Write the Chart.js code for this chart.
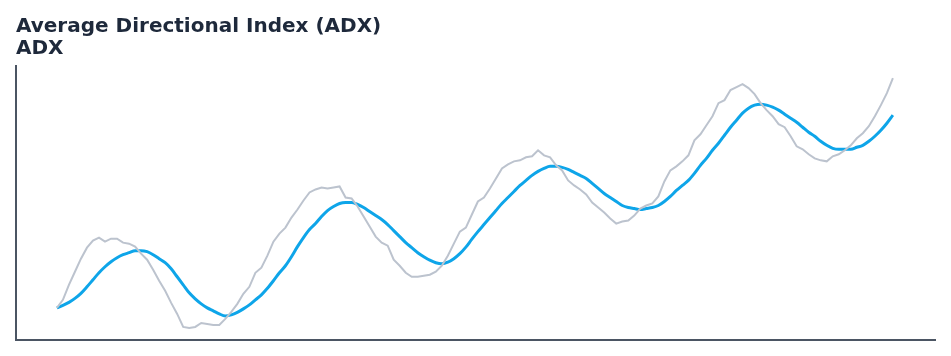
<!DOCTYPE html>
<html>
<head>
<meta charset="utf-8">
<script src="https://cdn.jsdelivr.net/npm/chart.js@4"></script>
<style>
  html, body { margin: 0; padding: 0; background: #ffffff; }
  #wrap { width: 951px; height: 356px; }
</style>
</head>
<body>
<div id="wrap"><canvas id="adxChart"></canvas></div>
<script>
// raw ADX readings, one per period
const adx = [
  10.4, 12, 15, 17.6, 20.2, 22.4, 23.8, 24.4, 23.6, 24.2,
  24.2, 23.4, 23.2, 22.6, 21.2, 20, 18, 15.8, 13.8, 11.4,
  9.2, 6.6, 6.4, 6.6, 7.4, 7.2, 7, 7, 8.2, 9.6,
  11.2, 13.2, 14.6, 17.4, 18.4, 20.8, 23.6, 25.2, 26.4, 28.4,
  30, 31.8, 33.4, 34, 34.4, 34.2, 34.4, 34.6, 32.4, 32.2,
  30.6, 28.6, 26.6, 24.6, 23.4, 22.8, 20, 18.8, 17.4, 16.6,
  16.6, 16.8, 17, 17.6, 18.8, 20.8, 23.2, 25.6, 26.4, 29,
  31.6, 32.4, 34.2, 36.2, 38.2, 39, 39.6, 39.8, 40.4, 40.6,
  41.8, 40.8, 40.4, 38.8, 37.8, 35.8, 34.8, 34, 33, 31.4,
  30.4, 29.4, 28.2, 27.2, 27.6, 27.8, 28.8, 30.2, 30.8, 31.2,
  32.6, 35.6, 37.8, 38.6, 39.6, 40.8, 43.8, 45, 46.8, 48.6,
  51.2, 51.8, 53.8, 54.4, 55, 54.2, 53, 51.2, 49.8, 48.6,
  47, 46.4, 44.6, 42.6, 42, 41, 40.2, 39.8, 39.6, 40.6,
  41, 41.8, 42.8, 44.2, 45.2, 46.6, 48.6, 50.8, 53.2, 56.2
];

// smoothed ADX
const adxSmooth = [
  10.4, 10.9, 11.5, 12.3, 13.3, 14.6, 16, 17.4, 18.6, 19.6,
  20.4, 21, 21.4, 21.8, 21.8, 21.6, 21, 20.2, 19.4, 18.2,
  16.6, 15, 13.4, 12.2, 11.2, 10.4, 9.8, 9.2, 8.8, 9,
  9.5, 10.2, 11, 12, 13, 14.3, 15.8, 17.4, 18.8, 20.6,
  22.6, 24.4, 26, 27.2, 28.6, 29.8, 30.6, 31.2, 31.4, 31.4,
  31, 30.4, 29.6, 28.8, 28, 27, 25.8, 24.6, 23.4, 22.4,
  21.4, 20.6, 19.9, 19.4, 19.2, 19.5, 20.2, 21.2, 22.5, 24.1,
  25.6, 27, 28.4, 29.8, 31.2, 32.4, 33.6, 34.8, 35.8, 36.8,
  37.6, 38.2, 38.6, 38.6, 38.4, 38, 37.4, 36.8, 36.2, 35.2,
  34.2, 33.2, 32.4, 31.6, 30.8, 30.4, 30.2, 30, 30.2, 30.4,
  30.8, 31.6, 32.6, 33.8, 34.8, 35.8, 37.2, 38.8, 40.2, 41.8,
  43.2, 44.8, 46.4, 47.8, 49.2, 50.2, 50.8, 51, 50.8, 50.4,
  49.8, 49, 48.2, 47.4, 46.4, 45.4, 44.6, 43.6, 42.8, 42.2,
  42, 42, 42, 42.4, 42.8, 43.6, 44.6, 45.8, 47.2, 48.8
];

const periods = adx.map((_, i) => i);

const toPoints = (values) => values.map((v, i) => ({ x: periods[i], y: v }));

const titleFont = { family: "DejaVu Sans", size: 20, weight: "bold", lineHeight: 1.1 };

new Chart("adxChart", {
  type: "line",
  data: {
    datasets: [
      {
        label: "ADX",
        data: toPoints(adx),
        borderColor: "#bcc3ce",
        borderWidth: 2,
        pointRadius: 0,
        tension: 0,
        fill: false,
      },
      {
        label: "ADX (smoothed)",
        data: toPoints(adxSmooth),
        borderColor: "#0ea5e9",
        borderWidth: 3,
        pointRadius: 0,
        cubicInterpolationMode: "monotone",
        fill: false,
      },
    ],
  },
  options: {
    responsive: true,
    maintainAspectRatio: false,
    animation: false,
    layout: {
      padding: { left: 16, right: 16, top: 16, bottom: 16 },
    },
    plugins: {
      legend: { display: false },
      tooltip: { enabled: false },
      title: {
        display: true,
        text: "Average Directional Index (ADX)",
        align: "start",
        color: "#1e293b",
        font: titleFont,
        padding: { top: 0, bottom: 0 },
      },
      subtitle: {
        display: true,
        text: "ADX",
        align: "start",
        color: "#1e293b",
        font: titleFont,
        padding: { top: 0, bottom: 6 },
      },
    },
    scales: {
      x: {
        type: "linear",
        min: -6.8,
        max: 146,
        grid: { display: false, drawTicks: false },
        ticks: { display: false },
        border: { display: true, color: "#4b5563", width: 2 },
      },
      y: {
        min: 4,
        max: 58.6,
        grid: { display: false, drawTicks: false },
        ticks: { display: false },
        border: { display: true, color: "#4b5563", width: 2 },
      },
    },
  },
});
</script>
</body>
</html>
